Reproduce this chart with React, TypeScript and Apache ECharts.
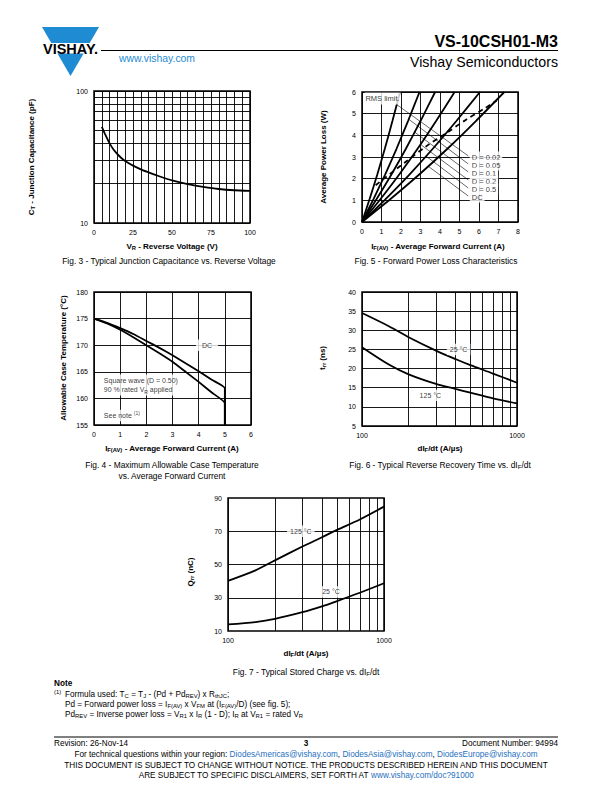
import React, { useEffect, useRef } from 'react';
import * as echarts from 'echarts';

const FONT = '"Liberation Sans", Arial, Helvetica, sans-serif';

// ---------- Fig. 3 : junction capacitance ----------
const fig3Voltage = [5, 6, 7, 8, 9, 10, 12.5, 15, 17.5, 20, 25, 30, 35, 40, 50, 60, 70, 80, 90, 100];
const fig3Capacitance = [53.5, 50.3, 47.4, 44.8, 42.3, 40.1, 36.0, 33.2, 31.1, 29.5, 27.2, 25.5, 24.2, 23.0, 21.0, 19.7, 18.8, 18.1, 17.7, 17.5];
const fig3MinorY = [20, 30, 40, 50, 60, 70, 80, 90];

// ---------- Fig. 5 : forward power loss ----------
const fig5D002 = [[0, 0], [0.39, 1.06], [0.78, 2.18], [1.17, 3.38], [1.56, 4.66], [1.95, 6]];
const fig5D005 = [[0, 0], [0.59, 1.06], [1.18, 2.18], [1.77, 3.38], [2.36, 4.66], [2.95, 6]];
const fig5D01 = [[0, 0], [0.75, 1.06], [1.5, 2.18], [2.25, 3.38], [3.0, 4.66], [3.75, 6]];
const fig5D02 = [[0, 0], [0.95, 1.06], [1.9, 2.18], [2.85, 3.38], [3.8, 4.66], [4.75, 6]];
const fig5D05 = [[0, 0], [1.21, 1.06], [2.42, 2.18], [3.63, 3.38], [4.84, 4.66], [6.05, 6]];
const fig5DC = [[0, 0], [1.46, 1.06], [2.92, 2.18], [4.38, 3.38], [5.84, 4.66], [7.3, 6]];
const fig5Rms = [[0.7, 1.7], [2.2, 2.75], [3.3, 3.5], [4.4, 4.15], [5.3, 4.7], [6.3, 5.25], [6.9, 5.6]];
const fig5LabelText = ['D = 0.02', 'D = 0.05', 'D = 0.1', 'D = 0.2', 'D = 0.5', 'DC'];
const fig5LabelY = [3.0, 2.63, 2.26, 1.89, 1.52, 1.15];
const fig5LeaderFrom = [[1.78, 5.42], [2.4, 4.74], [2.7, 4.15], [3.0, 3.58], [3.3, 3.03], [3.4, 2.57]];

// ---------- Fig. 4 : allowable case temperature ----------
const fig4Current = [0, 0.5, 1, 1.5, 2, 2.5, 3, 3.5, 4, 4.5, 5, 5];
const fig4DC = [175, 174.2, 173.2, 172.1, 170.8, 169.5, 168.1, 166.6, 165.1, 163.5, 161.9, 155];
const fig4Square = [175, 174.1, 172.9, 171.5, 170.0, 168.5, 166.9, 165.0, 163.1, 161.1, 159.1, 155];

// ---------- Fig. 6 : reverse recovery time ----------
const fig6DiDt = [100, 150, 200, 300, 400, 500, 700, 1000];
const fig6T25 = [34.5, 31.0, 28.2, 24.7, 22.5, 20.9, 18.7, 16.3];
const fig6T125 = [25.6, 21.0, 18.5, 16.0, 14.7, 13.7, 12.2, 10.9];
const logMinorX = [200, 300, 400, 500, 600, 700, 800, 900];

// ---------- Fig. 7 : stored charge ----------
const fig7DiDt = [100, 150, 200, 300, 400, 500, 700, 1000];
const fig7Q125 = [40.2, 46.5, 52.5, 60.8, 66.4, 70.8, 77.1, 84.8];
const fig7Q25 = [14.0, 15.4, 17.3, 21.3, 24.8, 28.0, 33.0, 38.7];
const fig7GridY = [30, 50, 70];

const zip = (xs: number[], ys: number[]) => xs.map((x, i) => [x, ys[i]]);

const tickFont = { fontSize: 7, color: '#000', fontFamily: FONT };
const gridLine = { show: true, lineStyle: { color: '#000', width: 0.9 } };
const noLine = { show: false };

function curve(idx: number, data: number[][], extra: any = {}) {
  return {
    type: 'line', xAxisIndex: idx, yAxisIndex: idx, data, symbol: 'none', smooth: 0.3, z: 3, silent: true,
    lineStyle: { color: '#000', width: 1.8 }, ...extra,
  };
}

function gridHost(idx: number, lines: any[]) {
  return {
    type: 'line', xAxisIndex: idx, yAxisIndex: idx, data: [], z: 1, silent: true,
    markLine: { symbol: 'none', silent: true, animation: false, label: { show: false }, lineStyle: { color: '#000', width: 0.9, type: 'solid' }, data: lines },
  };
}

function richLabel(size: number) {
  return {
    n: { fontSize: size, fontFamily: FONT, color: '#000', lineHeight: size + 2.5 },
    s: { fontSize: size * 0.72, fontFamily: FONT, color: '#000', verticalAlign: 'bottom', lineHeight: size * 0.72 },
    u: { fontSize: size * 0.72, fontFamily: FONT, color: '#000', verticalAlign: 'top', lineHeight: size * 0.72 },
  };
}

function labels(idx: number, size: number, items: any[]) {
  return {
    type: 'scatter', xAxisIndex: idx, yAxisIndex: idx, symbolSize: 1, z: 10, silent: true,
    itemStyle: { color: 'rgba(0,0,0,0)' },
    data: items.map((it) => ({
      value: [it.x, it.y],
      label: {
        show: true, position: it.pos || 'inside', distance: 0, formatter: it.text,
        color: '#000', fontSize: size, fontFamily: FONT, lineHeight: size + 2.5, align: it.pos === 'right' ? 'left' : 'center',
        backgroundColor: '#fff', padding: it.pad || [1, 3], rich: richLabel(size),
      },
    })),
  };
}

// ---------- page texts ----------
const gRich = (size: number, weight: string) => ({
  n: { fontSize: size, fontWeight: weight, fontFamily: FONT, fill: '#000', lineHeight: size + 2 },
  s: { fontSize: size * 0.72, fontWeight: weight, fontFamily: FONT, fill: '#000', verticalAlign: 'bottom', lineHeight: size * 0.72 },
  u: { fontSize: size * 0.72, fontWeight: weight, fontFamily: FONT, fill: '#000', verticalAlign: 'top', lineHeight: size * 0.72 },
  l: { fontSize: size, fontWeight: weight, fontFamily: FONT, fill: '#1f6fc0', lineHeight: size + 2 },
});

function txt(x: number, y: number, text: string, o: any = {}) {
  const size = o.size || 8;
  const weight = o.bold ? 'bold' : 'normal';
  return {
    type: 'text', x, y, rotation: o.rot || 0, silent: true,
    style: {
      text, fill: o.color || '#000', fontSize: size, fontWeight: weight, fontFamily: FONT,
      align: o.align || 'center', verticalAlign: 'middle', rich: gRich(size, weight),
    },
  };
}

const AX = 8; // axis title size
const CAP = 8.4; // caption size
const FT = 8.2; // footer size

const graphics: any[] = [
  // logo
  { type: 'polygon', shape: { points: [[42, 27], [99, 27], [70.5, 76]] }, style: { fill: '#1e8bd2' }, silent: true },
  { type: 'rect', shape: { x: 36, y: 43, width: 70, height: 10.5 }, style: { fill: '#fff' }, silent: true },
  txt(70.5, 48.5, 'VISHAY.', { size: 14.5, bold: true }),
  { type: 'line', shape: { x1: 101, y1: 50.5, x2: 558, y2: 50.5 }, style: { stroke: '#000', lineWidth: 1 }, silent: true },
  txt(558, 41, 'VS-10CSH01-M3', { size: 16, bold: true, align: 'right' }),
  txt(119, 58, 'www.vishay.com', { size: 10.4, align: 'left', color: '#1e8bd2' }),
  txt(558, 62, 'Vishay Semiconductors', { size: 14.2, align: 'right' }),

  // fig 3
  txt(31, 157, '{n|C}{s|T}{n| - Junction Capacitance (pF)}', { size: AX, bold: true, rot: Math.PI / 2 }),
  txt(172, 246, '{n|V}{s|R}{n| - Reverse Voltage (V)}', { size: AX, bold: true }),
  txt(169, 261, 'Fig. 3 - Typical Junction Capacitance vs. Reverse Voltage', { size: CAP }),

  // fig 5
  txt(323, 157, 'Average Power Loss (W)', { size: AX, bold: true, rot: Math.PI / 2 }),
  txt(438, 246, '{n|I}{s|F(AV)}{n| - Average Forward Current (A)}', { size: AX, bold: true }),
  txt(436, 261, 'Fig. 5 - Forward Power Loss Characteristics', { size: CAP }),

  // fig 4
  txt(63, 358, 'Allowable Case Temperature (°C)', { size: AX, bold: true, rot: Math.PI / 2 }),
  txt(172, 448, '{n|I}{s|F(AV)}{n| - Average Forward Current (A)}', { size: AX, bold: true }),
  txt(172, 465, 'Fig. 4 - Maximum Allowable Case Temperature', { size: CAP }),
  txt(172, 476, 'vs. Average Forward Current', { size: CAP }),

  // fig 6
  txt(322, 358, '{n|t}{s|rr}{n| (ns)}', { size: AX, bold: true, rot: Math.PI / 2 }),
  txt(440, 448, '{n|dI}{s|F}{n|/dt (A/µs)}', { size: AX, bold: true }),
  txt(440, 465, '{n|Fig. 6 - Typical Reverse Recovery Time vs. dI}{s|F}{n|/dt}', { size: CAP }),

  // fig 7
  txt(190, 572, '{n|Q}{s|rr}{n| (nC)}', { size: AX, bold: true, rot: Math.PI / 2 }),
  txt(306, 653, '{n|dI}{s|F}{n|/dt (A/µs)}', { size: AX, bold: true }),
  txt(306, 672, '{n|Fig. 7 - Typical Stored Charge vs. dI}{s|F}{n|/dt}', { size: CAP }),

  // note
  txt(54, 683, 'Note', { size: FT, bold: true, align: 'left' }),
  txt(54, 692, '{u|(1)}', { size: FT, align: 'left' }),
  txt(65, 694, '{n|Formula used: T}{s|C}{n| = T}{s|J}{n| - (Pd + Pd}{s|REV}{n|) x R}{s|thJC}{n|;}', { size: FT, align: 'left' }),
  txt(65, 704, '{n|Pd = Forward power loss = I}{s|F(AV)}{n| x V}{s|FM}{n| at (I}{s|F(AV)}{n|/D) (see fig. 5);}', { size: FT, align: 'left' }),
  txt(65, 714, '{n|Pd}{s|REV}{n| = Inverse power loss = V}{s|R1}{n| x I}{s|R}{n| (1 - D); I}{s|R}{n| at V}{s|R1}{n| = rated V}{s|R}', { size: FT, align: 'left' }),

  // footer
  { type: 'line', shape: { x1: 54, y1: 737, x2: 558, y2: 737 }, style: { stroke: '#000', lineWidth: 1 }, silent: true },
  txt(54, 743, 'Revision: 26-Nov-14', { size: FT, align: 'left' }),
  txt(306, 743, '3', { size: FT, bold: true }),
  txt(558, 743, 'Document Number: 94994', { size: FT, align: 'right' }),
  txt(306, 754, '{n|For technical questions within your region: }{l|DiodesAmericas@vishay.com}{n|, }{l|DiodesAsia@vishay.com}{n|, }{l|DiodesEurope@vishay.com}', { size: FT }),
  txt(306, 765, 'THIS DOCUMENT IS SUBJECT TO CHANGE WITHOUT NOTICE. THE PRODUCTS DESCRIBED HEREIN AND THIS DOCUMENT', { size: FT }),
  txt(306, 775, '{n|ARE SUBJECT TO SPECIFIC DISCLAIMERS, SET FORTH AT }{l|www.vishay.com/doc?91000}', { size: FT }),
];

function buildOption() {
  const gridBase = { show: true, borderColor: '#000', borderWidth: 1.5, backgroundColor: 'transparent', containLabel: false };
  const grid = [
    { left: 94, top: 91, width: 156, height: 132 },
    { left: 362, top: 92, width: 156, height: 130 },
    { left: 94, top: 292, width: 157, height: 133 },
    { left: 362, top: 292, width: 155, height: 134 },
    { left: 228, top: 498, width: 156, height: 133 },
  ].map((g) => ({ ...g, ...gridBase }));

  const common = { axisLine: noLine, axisTick: noLine };
  const intFmt = (v: number) => String(Math.round(v));

  const xAxis = [
    { gridIndex: 0, type: 'value', min: 0, max: 100, interval: 5, ...common, splitLine: gridLine,
      axisLabel: { ...tickFont, margin: 6, formatter: (v: number) => (v % 25 === 0 ? String(v) : '') } },
    { gridIndex: 1, type: 'value', min: 0, max: 8, interval: 1, ...common, splitLine: gridLine, axisLabel: { ...tickFont, margin: 6 } },
    { gridIndex: 2, type: 'value', min: 0, max: 6, interval: 1, ...common, splitLine: gridLine, axisLabel: { ...tickFont, margin: 6 } },
    { gridIndex: 3, type: 'log', logBase: 10, min: 100, max: 1000, ...common, splitLine: gridLine, axisLabel: { ...tickFont, margin: 6, formatter: intFmt } },
    { gridIndex: 4, type: 'log', logBase: 10, min: 100, max: 1000, ...common, splitLine: gridLine, axisLabel: { ...tickFont, margin: 6, formatter: intFmt } },
  ];
  const yAxis = [
    { gridIndex: 0, type: 'log', logBase: 10, min: 10, max: 100, ...common, splitLine: gridLine, axisLabel: { ...tickFont, margin: 6, formatter: intFmt } },
    { gridIndex: 1, type: 'value', min: 0, max: 6, interval: 1, ...common, splitLine: gridLine, axisLabel: { ...tickFont, margin: 6 } },
    { gridIndex: 2, type: 'value', min: 155, max: 180, interval: 5, ...common, splitLine: gridLine, axisLabel: { ...tickFont, margin: 6 } },
    { gridIndex: 3, type: 'value', min: 5, max: 40, interval: 5, ...common, splitLine: gridLine, axisLabel: { ...tickFont, margin: 6 } },
    { gridIndex: 4, type: 'value', min: 10, max: 90, interval: 10, ...common, splitLine: noLine,
      axisLabel: { ...tickFont, margin: 6, formatter: (v: number) => ((v - 10) % 20 === 0 ? String(v) : '') } },
  ];

  const series: any[] = [
    // fig 3
    gridHost(0, fig3MinorY.map((v) => ({ yAxis: v }))),
    curve(0, zip(fig3Voltage, fig3Capacitance), { smooth: 0.2 }),

    // fig 5
    curve(1, fig5D002, { smooth: 0.2 }),
    curve(1, fig5D005, { smooth: 0.2 }),
    curve(1, fig5D01, { smooth: 0.2 }),
    curve(1, fig5D02, { smooth: 0.2 }),
    curve(1, fig5D05, { smooth: 0.2 }),
    curve(1, fig5DC, { smooth: 0.2 }),
    curve(1, fig5Rms, { lineStyle: { color: '#000', width: 1.8, type: [5, 4] } }),
    {
      type: 'line', xAxisIndex: 1, yAxisIndex: 1, data: [], z: 4, silent: true,
      markLine: {
        symbol: 'none', silent: true, animation: false, label: { show: false },
        lineStyle: { color: '#000', width: 0.6, type: 'solid' },
        data: fig5LeaderFrom.map((p, i) => [{ coord: p }, { coord: [5.45, fig5LabelY[i] + 0.05] }]),
      },
    },
    labels(1, 7.5, [
      { x: 0.1, y: 5.7, text: 'RMS limit.', pos: 'right', pad: [1, 1] },
      ...fig5LabelText.map((t, i) => ({ x: 5.5, y: fig5LabelY[i], text: t, pos: 'right', pad: [1, 2, 0, 2] })),
    ]),

    // fig 4
    curve(2, zip(fig4Current, fig4DC), { smooth: 0.15 }),
    curve(2, zip(fig4Current, fig4Square), { smooth: 0.15 }),
    labels(2, 7, [
      { x: 4.32, y: 170, text: 'DC', pad: [1, 6] },
      { x: 0.28, y: 162.5, text: 'Square wave (D = 0.50)\n{n|90 % rated V}{s|R}{n| applied}', pos: 'right', pad: [1, 2] },
      { x: 0.28, y: 156.8, text: '{n|See note }{u|(1)}', pos: 'right', pad: [1, 2] },
    ]),

    // fig 6
    gridHost(3, logMinorX.map((v) => ({ xAxis: v }))),
    curve(3, zip(fig6DiDt, fig6T25)),
    curve(3, zip(fig6DiDt, fig6T125)),
    labels(3, 7, [
      { x: 420, y: 25, text: '25 °C', pad: [1, 3] },
      { x: 276, y: 13, text: '125 °C', pad: [1, 3] },
    ]),

    // fig 7
    gridHost(4, [...logMinorX.map((v) => ({ xAxis: v })), ...fig7GridY.map((v) => ({ yAxis: v }))]),
    curve(4, zip(fig7DiDt, fig7Q125)),
    curve(4, zip(fig7DiDt, fig7Q25)),
    labels(4, 7, [
      { x: 293, y: 70, text: '125 °C', pad: [1, 3] },
      { x: 457, y: 33.5, text: '25 °C', pad: [1, 3] },
    ]),
  ];

  return { animation: false, backgroundColor: '#fff', grid, xAxis, yAxis, series, graphic: graphics };
}

export default function App() {
  const ref = useRef<HTMLDivElement>(null);
  useEffect(() => {
    const chart = echarts.init(ref.current!, null, { renderer: 'svg' });
    chart.setOption(buildOption() as any);
    return () => chart.dispose();
  }, []);
  return <div ref={ref} style={{ position: 'absolute', left: 0, top: 0, width: 612, height: 792, background: '#fff' }} />;
}
